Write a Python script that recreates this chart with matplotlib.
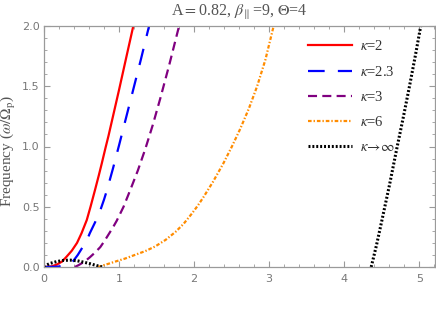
import matplotlib
matplotlib.use("Agg")
import matplotlib.pyplot as plt
from matplotlib.ticker import MultipleLocator

plt.rcParams['mathtext.fontset'] = 'stix'
plt.rcParams['lines.scale_dashes'] = False

# kappa = 2
k2_x = [0.0, 0.10, 0.17, 0.24, 0.30, 0.37, 0.44, 0.50, 0.57, 0.62, 0.68, 0.73,
        0.77, 0.82, 0.86, 0.93, 1.00, 1.10, 1.19]
k2_y = [0.0, 0.005, 0.02, 0.045, 0.085, 0.135, 0.20, 0.28, 0.39, 0.50, 0.64, 0.76,
        0.86, 0.99, 1.09, 1.28, 1.47, 1.75, 2.0]
# kappa = 2.3
k23_x = [0.0, 0.15, 0.27, 0.33, 0.39, 0.45, 0.52, 0.57, 0.61, 0.68, 0.75, 0.80,
         0.84, 0.92, 1.00, 1.09, 1.18, 1.29, 1.40]
k23_y = [0.0, 0.002, 0.008, 0.022, 0.05, 0.10, 0.17, 0.22, 0.28, 0.37, 0.47, 0.56,
         0.64, 0.82, 1.01, 1.23, 1.45, 1.72, 2.0]
# kappa = 3
k3_x = [0.41, 0.46, 0.50, 0.55, 0.61, 0.68, 0.75, 0.81, 0.87, 0.92, 0.97, 1.06,
        1.15, 1.25, 1.35, 1.45, 1.55, 1.67, 1.80]
k3_y = [0.0, 0.015, 0.03, 0.05, 0.08, 0.12, 0.165, 0.22, 0.28, 0.33, 0.385, 0.50,
        0.64, 0.80, 0.98, 1.18, 1.40, 1.68, 2.0]
# kappa = 6
k6_x = [0.72, 0.77, 0.86, 0.95, 1.08, 1.21, 1.35, 1.48, 1.62, 1.75, 1.86, 1.97,
        2.05, 2.12, 2.25, 2.39, 2.50, 2.61, 2.73, 2.84, 2.95, 3.06]
k6_y = [0.0, 0.01, 0.027, 0.045, 0.07, 0.10, 0.132, 0.17, 0.225, 0.29, 0.358, 0.443,
        0.51, 0.575, 0.705, 0.86, 0.995, 1.14, 1.315, 1.50, 1.72, 2.0]
# kappa -> infinity (two branches)
kinf1_x = [0.0, 0.04, 0.08, 0.17, 0.26, 0.35, 0.44, 0.53, 0.61, 0.70, 0.78]
kinf1_y = [0.0, 0.018, 0.03, 0.045, 0.055, 0.057, 0.052, 0.04, 0.028, 0.012, 0.0]
kinf2_x = [4.36, 4.43, 4.50, 4.60, 4.70, 4.79, 4.87, 4.95, 5.02]
kinf2_y = [0.0, 0.18, 0.38, 0.67, 0.98, 1.25, 1.50, 1.76, 2.0]

labels = [r"$\kappa$=2", r"$\kappa$=2.3", r"$\kappa$=3", r"$\kappa$=6",
          r"$\kappa\!\rightarrow\!\infty$"]

W, H = 436, 309
fig = plt.figure(figsize=(W/100, H/100), dpi=100)
ax = fig.add_axes([44/W, 1-267/H, (435-44)/W, (267-26)/H])

lw = 1.6
l1, = ax.plot(k2_x, k2_y, color='#FF0000', lw=lw, label=labels[0])
l2, = ax.plot(k23_x, k23_y, color='#0000FF', lw=lw, dashes=(12, 9.5), label=labels[1])
l3, = ax.plot(k3_x, k3_y, color='#800080', lw=lw, dashes=(6.5, 3.8), label=labels[2])
l4, = ax.plot(k6_x, k6_y, color='#FF8C00', lw=lw, dashes=(2.6, 1.4, 1.0, 1.4), label=labels[3])
l5, = ax.plot(kinf1_x, kinf1_y, color='black', lw=2.2, dashes=(1.4, 1.4), label=labels[4])
ax.plot(kinf2_x, kinf2_y, color='black', lw=2.2, dashes=(1.4, 1.4))

ax.set_xlim(0, 5.21)
ax.set_ylim(0, 2.0)
ax.xaxis.set_major_locator(MultipleLocator(1))
ax.xaxis.set_minor_locator(MultipleLocator(0.2))
ax.yaxis.set_major_locator(MultipleLocator(0.5))
ax.yaxis.set_minor_locator(MultipleLocator(0.1))

gray = '#9a9a9a'
for s in ax.spines.values():
    s.set_color(gray)
    s.set_linewidth(0.9)
ax.tick_params(which='both', direction='in', top=True, right=True, color=gray,
               labelcolor='#777777', labelsize=8)
ax.tick_params(which='major', length=4.5, width=0.8)
ax.tick_params(which='minor', length=2.5, width=0.6)
ax.xaxis.set_major_formatter(plt.FuncFormatter(lambda v, p: f"{v:g}"))
ax.yaxis.set_major_formatter(plt.FuncFormatter(lambda v, p: f"{v:.1f}"))
ax.tick_params(axis='x', pad=5)
ax.tick_params(axis='y', pad=3)

leg = ax.legend(handles=[l1, l2, l3, l4, l5], loc='upper left',
                bbox_to_anchor=(0.675, 0.945), frameon=False,
                prop={'family': 'Liberation Serif', 'size': 10.5},
                handlelength=3.0, handletextpad=0.6, labelspacing=0.78,
                borderaxespad=0, borderpad=0)
for t in leg.get_texts():
    t.set_color('#333333')

fig.text((44 + 435) / 2 / W, 1-12/H, r"A$=$0.82, $\beta_{\parallel}$=9, $\Theta$=4",
         ha='center', va='center', fontsize=11.5, color='#555555',
         family='Liberation Serif')
fig.text(9/W, 1-151/H, r"Frequency ($\omega/\Omega_{\rm p}$)", rotation=90,
         ha='center', va='center', fontsize=11, color='#555555',
         family='Liberation Serif')

fig.savefig("out.png", dpi=100)
